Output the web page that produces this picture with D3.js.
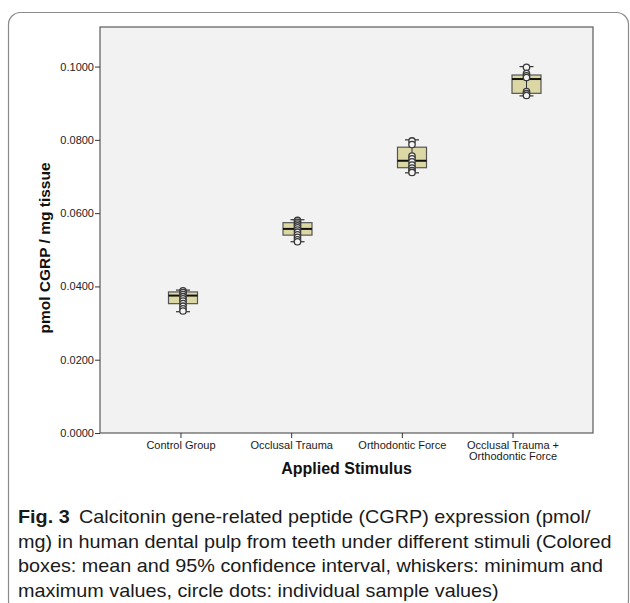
<!DOCTYPE html>
<html>
<head>
<meta charset="utf-8">
<script src="https://cdn.jsdelivr.net/npm/d3@7"></script>
<style>
  html, body { margin: 0; padding: 0; background: #fff; }
  svg { display: block; }
</style>
</head>
<body>
<div id="chart"></div>
<script>
// categories (multi-line labels) and summary values
const categories = ["Control Group", "Occlusal Trauma", "Orthodontic Force", "Occlusal Trauma +|Orthodontic Force"];
const boxLow  = [0.0353, 0.0540, 0.0724, 0.0927];
const boxHigh = [0.0385, 0.0574, 0.0780, 0.0977];
const boxMid  = [0.0375, 0.0557, 0.0743, 0.0966];
const whiskerMin = [0.0331, 0.0522, 0.0710, 0.0920];
const whiskerMax = [0.0390, 0.0582, 0.0800, 0.1000];
const samples = [
  [0.0388, 0.0383, 0.0378, 0.0372, 0.0366, 0.0360, 0.0353, 0.0346, 0.0339, 0.0333],
  [0.0580, 0.0575, 0.0570, 0.0565, 0.0560, 0.0554, 0.0548, 0.0541, 0.0534, 0.0527, 0.0522],
  [0.0797, 0.0787, 0.0756, 0.0748, 0.0740, 0.0731, 0.0723, 0.0716, 0.0711],
  [0.0998, 0.0981, 0.0975, 0.0970, 0.0932, 0.0926, 0.0921]
];
const yTicks = [0, 0.02, 0.04, 0.06, 0.08, 0.10];
const yTitle = "pmol CGRP / mg tissue";
const xTitle = "Applied Stimulus";
const captionLines = [
  "Calcitonin gene-related peptide (CGRP) expression (pmol/",
  "mg) in human dental pulp from teeth under different stimuli (Colored",
  "boxes: mean and 95% confidence interval, whiskers: minimum and",
  "maximum values, circle dots: individual sample values)"
];

const W = 630, H = 603;
const plot = { left: 100, top: 27, right: 593, bottom: 433 };

const svg = d3.select("#chart").append("svg")
  .attr("width", W).attr("height", H);

// outer frame
svg.append("rect")
  .attr("x", 8.5).attr("y", 12.5)
  .attr("width", 620).attr("height", 600)
  .attr("rx", 12)
  .attr("fill", "none")
  .attr("stroke", "#8a8a8a")
  .attr("stroke-width", 1.2);

// plot background
svg.append("rect")
  .attr("x", plot.left).attr("y", plot.top)
  .attr("width", plot.right - plot.left).attr("height", plot.bottom - plot.top)
  .attr("fill", "#f2f2f2")
  .attr("stroke", "#5a5a5a")
  .attr("stroke-width", 1.2);

const y = d3.scaleLinear()
  .domain([0, 0.1108])
  .range([plot.bottom, plot.top]);

const x = d3.scalePoint()
  .domain(categories)
  .range([plot.left, plot.right])
  .padding(0.727);

// boxes sit slightly right of the ticks in the original
const bx = d3.scalePoint()
  .domain(categories)
  .range([plot.left + 83, plot.right - 66.5]);

// y axis
const yAxis = svg.append("g")
  .attr("transform", `translate(${plot.left},0)`)
  .call(d3.axisLeft(y).tickValues(yTicks).tickFormat(d3.format(".4f")).tickSize(5).tickSizeOuter(0));
yAxis.select(".domain").remove();
yAxis.selectAll("line").attr("stroke", "#333");
yAxis.selectAll("text")
  .attr("font-family", "Liberation Sans, Arial, sans-serif")
  .attr("font-size", 11)
  .attr("fill", "#222")
  .attr("x", -6);

// x axis
const xAxis = svg.append("g")
  .attr("transform", `translate(0,${plot.bottom})`)
  .call(d3.axisBottom(x).tickSize(5).tickSizeOuter(0).tickFormat(""));
xAxis.select(".domain").remove();
xAxis.selectAll("line").attr("stroke", "#333");

xAxis.selectAll(".tick").each(function(d) {
  const lines = d.split("|");
  const t = d3.select(this).append("text")
    .attr("font-family", "Liberation Sans, Arial, sans-serif")
    .attr("font-size", 11)
    .attr("fill", "#1a1a1a")
    .attr("text-anchor", "middle");
  lines.forEach((ln, i) => {
    t.append("tspan").attr("x", 0).attr("y", 16 + i * 10.5).text(ln);
  });
});

// axis titles
svg.append("text")
  .attr("transform", `translate(50,${(plot.top + plot.bottom) / 2 + 18}) rotate(-90)`)
  .attr("text-anchor", "middle")
  .attr("font-family", "Liberation Sans, Arial, sans-serif")
  .attr("font-weight", "bold")
  .attr("font-size", 15.5)
  .attr("fill", "#111")
  .text(yTitle);

svg.append("text")
  .attr("x", (plot.left + plot.right) / 2)
  .attr("y", 474)
  .attr("text-anchor", "middle")
  .attr("font-family", "Liberation Sans, Arial, sans-serif")
  .attr("font-weight", "bold")
  .attr("font-size", 16)
  .attr("fill", "#111")
  .text(xTitle);

// boxes
const boxW = 29, capW = 14;
const groups = svg.append("g").selectAll("g")
  .data(categories)
  .join("g")
  .attr("transform", d => `translate(${bx(d)},0)`);

groups.append("rect")
  .attr("x", -boxW / 2)
  .attr("y", (d, i) => y(boxHigh[i]))
  .attr("width", boxW)
  .attr("height", (d, i) => y(boxLow[i]) - y(boxHigh[i]))
  .attr("fill", "#dcd8a6")
  .attr("stroke", "#555")
  .attr("stroke-width", 1.2);

groups.append("line")
  .attr("x1", -boxW / 2).attr("x2", boxW / 2)
  .attr("y1", (d, i) => y(boxMid[i])).attr("y2", (d, i) => y(boxMid[i]))
  .attr("stroke", "#111")
  .attr("stroke-width", 2);

// whiskers
groups.append("line")
  .attr("x1", 0).attr("x2", 0)
  .attr("y1", (d, i) => y(whiskerMin[i])).attr("y2", (d, i) => y(whiskerMax[i]))
  .attr("stroke", "#333").attr("stroke-width", 1);
[whiskerMin, whiskerMax].forEach(arr => {
  groups.append("line")
    .attr("x1", -capW / 2).attr("x2", capW / 2)
    .attr("y1", (d, i) => y(arr[i])).attr("y2", (d, i) => y(arr[i]))
    .attr("stroke", "#333").attr("stroke-width", 1.2);
});

// individual samples
groups.each(function(d, i) {
  d3.select(this).selectAll("circle")
    .data(samples[i])
    .join("circle")
    .attr("cx", 0)
    .attr("cy", v => y(v))
    .attr("r", 3.2)
    .attr("fill", "#f4f4f4")
    .attr("stroke", "#3a3a3a")
    .attr("stroke-width", 1.3);
});

// caption: original uses a condensed face, so draw larger and squeeze horizontally
const capFont = "Liberation Sans, Arial, sans-serif";
const capSize = 19;
const cap = svg.append("g");
const capRows = cap.selectAll("text")
  .data(captionLines)
  .join("text")
  .attr("font-family", capFont)
  .attr("font-size", capSize)
  .attr("fill", "#1a1a1a");
capRows.each(function(ln, i) {
  const t = d3.select(this);
  if (i === 0) {
    t.append("tspan").attr("font-weight", "bold").text("Fig. 3");
    t.append("tspan").attr("dx", 9).text(ln);
  } else {
    t.text(ln);
  }
});
// fit to the original width (line 2 spans x=18..612)
const wNow = capRows.nodes()[1].getComputedTextLength();
const sx = (612 - 18) / wNow;
capRows.attr("transform", (d, i) => `translate(18,${523 + i * 24.5}) scale(${sx},1)`);
</script>
</body>
</html>
